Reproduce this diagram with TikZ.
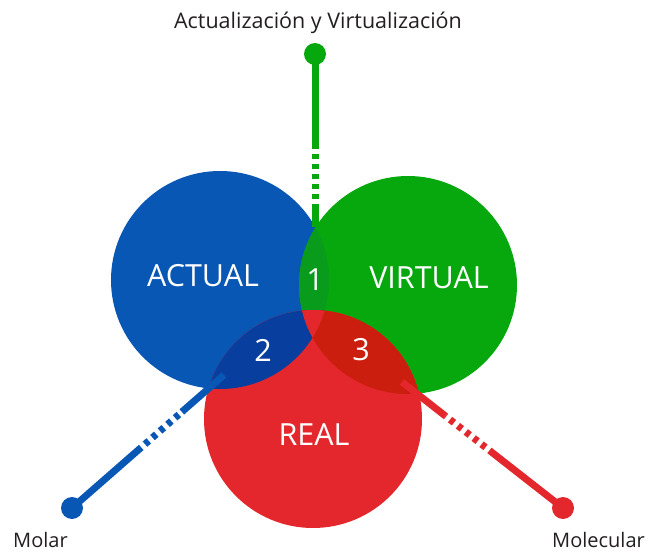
\documentclass[tikz,border=0pt]{standalone}
\usepackage{fontspec}
\setmainfont{Open Sans}
\usetikzlibrary{calc}

\definecolor{actualblue}{RGB}{8,87,180}
\definecolor{virtualgreen}{RGB}{6,168,14}
\definecolor{realred}{RGB}{227,39,44}
\definecolor{mixbg}{RGB}{8,155,28}
\definecolor{mixbr}{RGB}{8,62,158}
\definecolor{mixgr}{RGB}{204,30,14}
\definecolor{captiongray}{RGB}{35,31,32}

\begin{document}
\begin{tikzpicture}[x=1pt, y=-1pt,
            word/.style={text=white, font=\fontsize{30.5}{36}\selectfont, inner sep=0pt},
            pole/.style={line width=7pt},
            poledash/.style={line width=7pt, dash pattern=on 5pt off 5pt, dash phase=5pt},
            knob/.style={circle, minimum size=22pt, inner sep=0pt},
            caption/.style={text=captiongray, font=\fontsize{20}{24}\selectfont, inner sep=0pt}]

            \useasboundingbox (0,0) rectangle (649,554);

            % circle centres
            \coordinate (actual) at (220,280);
            \coordinate (virtual) at (408,285);
            \coordinate (real) at (313,419);

            % the three circles
            \fill[actualblue] (actual) circle[radius=109pt];
            \fill[virtualgreen] (virtual) circle[radius=109pt];
            \fill[realred] (real) circle[radius=109pt];

            % overlaps
            \begin{scope}
                \clip (actual) circle[radius=109pt];
                \fill[mixbg] (virtual) circle[radius=109pt];
                \fill[mixbr] (real) circle[radius=109pt];
            \end{scope}
            \begin{scope}
                \clip (virtual) circle[radius=109pt];
                \fill[mixgr] (real) circle[radius=109pt];
            \end{scope}
            \begin{scope}
                \clip (actual) circle[radius=109pt];
                \clip (virtual) circle[radius=109pt];
                \fill[realred] (real) circle[radius=109pt];
            \end{scope}

            % top pole
            \node[knob, fill=virtualgreen] (vknob) at (315,54) {};
            \coordinate (vend) at (315,227);
            \coordinate (vd1) at ($(vend)!78pt!(vknob)$);
            \coordinate (vd2) at ($(vend)!23pt!(vknob)$);
            \draw[pole, virtualgreen] (vknob.center) -- (vd1);
            \draw[poledash, virtualgreen] (vd1) -- (vd2);
            \draw[pole, virtualgreen] (vd2) -- (vend);

            % left pole
            \node[knob, fill=actualblue] (aknob) at (72,508) {};
            \coordinate (aend) at (224,375);
            \coordinate (ad1) at ($(aend)!110pt!(aknob)$);
            \coordinate (ad2) at ($(aend)!56pt!(aknob)$);
            \draw[pole, actualblue] (aknob.center) -- (ad1);
            \draw[poledash, actualblue] (ad1) -- (ad2);
            \draw[pole, actualblue] (ad2) -- (aend);

            % right pole
            \node[knob, fill=realred] (rknob) at (563,508) {};
            \coordinate (rend) at (402,382);
            \coordinate (rd1) at ($(rend)!111pt!(rknob)$);
            \coordinate (rd2) at ($(rend)!55pt!(rknob)$);
            \draw[pole, realred] (rknob.center) -- (rd1);
            \draw[poledash, realred] (rd1) -- (rd2);
            \draw[pole, realred] (rd2) -- (rend);

            % circle words and numbers
            \node[word] (tactual) at (203,276) {ACTUAL};
            \node[word] (tvirtual) at (429,278) {VIRTUAL};
            \node[word] (treal) at (314,435) {REAL};
            \node[word] (one) at (315,280) {1};
            \node[word] (two) at (263,350) {2};
            \node[word] (three) at (361,350) {3};

            % captions
            \node[caption, anchor=base, font=\fontsize{21.5}{26}\selectfont] (ttop) at (318,28) {Actualización y Virtualización};
            \node[caption, anchor=base west] (tmolar) at (13,547) {Molar};
            \node[caption, anchor=base east] (tmolecular) at (645,547) {Molecular};
\end{tikzpicture}
\end{document}
